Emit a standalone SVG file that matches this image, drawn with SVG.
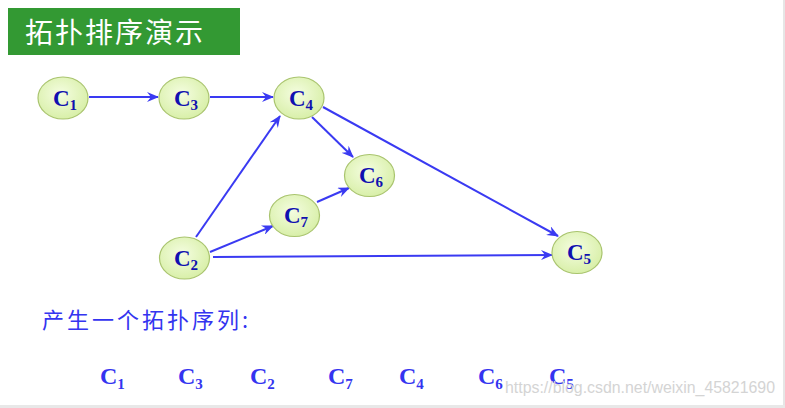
<svg xmlns="http://www.w3.org/2000/svg" width="785" height="408" viewBox="0 0 785 408">
<style>
.node ellipse{fill:url(#ng);stroke:#a9c46e;stroke-width:1.2}
.lbl{font-family:"Liberation Serif",serif;font-weight:bold;font-size:23px;fill:#1010b0;text-anchor:middle}
.sub{font-size:15px}
.edge{stroke:#3a3af2;stroke-width:2;fill:none;marker-end:url(#ah)}
.seq{font-family:"Liberation Serif",serif;font-weight:bold;font-size:24px;fill:#3434f0}
.cjk{font-family:"Noto Sans CJK SC",sans-serif}
</style>
<defs>
<radialGradient id="ng" cx="0.45" cy="0.4" r="0.65">
<stop offset="0" stop-color="#f4fde0"/>
<stop offset="1" stop-color="#d6eea4"/>
</radialGradient>
<marker id="ah" viewBox="0 0 12 10" refX="11" refY="5" markerWidth="12" markerHeight="10" markerUnits="userSpaceOnUse" orient="auto">
<path d="M0,0 L12,5 L0,10 L4,5 Z" fill="#3a3af2"/>
</marker>
</defs>
<rect x="0" y="0" width="785" height="408" fill="#ffffff"/>
<rect x="783" y="0" width="2" height="408" fill="#e6e6e6"/>
<rect x="0" y="405" width="785" height="3" fill="#e8e8e8"/>
<g id="title">
<rect x="8" y="8" width="232" height="47" fill="#339933"/>
<text x="25" y="43" class="cjk" font-size="28" fill="#ffffff" letter-spacing="2">拓扑排序演示</text>
</g>
<g id="connectors">
<line class="edge" x1="89" y1="97" x2="158" y2="97"/>
<line class="edge" x1="210" y1="97" x2="273" y2="97"/>
<line class="edge" x1="196" y1="237" x2="280" y2="116"/>
<line class="edge" x1="312" y1="117" x2="353" y2="157"/>
<line class="edge" x1="323" y1="107" x2="558" y2="236"/>
<line class="edge" x1="317" y1="202" x2="349" y2="188"/>
<line class="edge" x1="210" y1="252" x2="273" y2="226"/>
<line class="edge" x1="213" y1="257" x2="552" y2="255"/>
</g>
<g id="C1" class="node"><ellipse cx="63" cy="98" rx="25" ry="21"/><text class="lbl" x="65" y="106">C<tspan class="sub" dy="4">1</tspan></text></g>
<g id="C3" class="node"><ellipse cx="184" cy="98" rx="25" ry="21"/><text class="lbl" x="186" y="106">C<tspan class="sub" dy="4">3</tspan></text></g>
<g id="C4" class="node"><ellipse cx="299" cy="98" rx="25" ry="21"/><text class="lbl" x="301" y="106">C<tspan class="sub" dy="4">4</tspan></text></g>
<g id="C6" class="node"><ellipse cx="369.5" cy="175.5" rx="25" ry="21"/><text class="lbl" x="371" y="183">C<tspan class="sub" dy="4">6</tspan></text></g>
<g id="C7" class="node"><ellipse cx="294.5" cy="215.5" rx="25" ry="21"/><text class="lbl" x="296" y="223">C<tspan class="sub" dy="4">7</tspan></text></g>
<g id="C2" class="node"><ellipse cx="184.5" cy="258" rx="25" ry="21"/><text class="lbl" x="186" y="266">C<tspan class="sub" dy="4">2</tspan></text></g>
<g id="C5" class="node"><ellipse cx="577" cy="252.5" rx="25" ry="21"/><text class="lbl" x="579" y="260">C<tspan class="sub" dy="4">5</tspan></text></g>
<text x="42" y="328" class="cjk" font-size="22" fill="#3434f0" letter-spacing="3">产生一个拓扑序列:</text>
<g id="sequence">
<text class="seq" x="100" y="384">C<tspan class="sub" dy="5">1</tspan></text>
<text class="seq" x="178" y="384">C<tspan class="sub" dy="5">3</tspan></text>
<text class="seq" x="250" y="384">C<tspan class="sub" dy="5">2</tspan></text>
<text class="seq" x="328" y="384">C<tspan class="sub" dy="5">7</tspan></text>
<text class="seq" x="399" y="384">C<tspan class="sub" dy="5">4</tspan></text>
<text class="seq" x="478" y="384">C<tspan class="sub" dy="5">6</tspan></text>
<text class="seq" x="549" y="384">C<tspan class="sub" dy="5">5</tspan></text>
</g>
<text x="505" y="393" font-family="Liberation Sans,sans-serif" font-size="16" fill="#d4d4d4" textLength="270" lengthAdjust="spacingAndGlyphs">https://blog.csdn.net/weixin_45821690</text>
</svg>
